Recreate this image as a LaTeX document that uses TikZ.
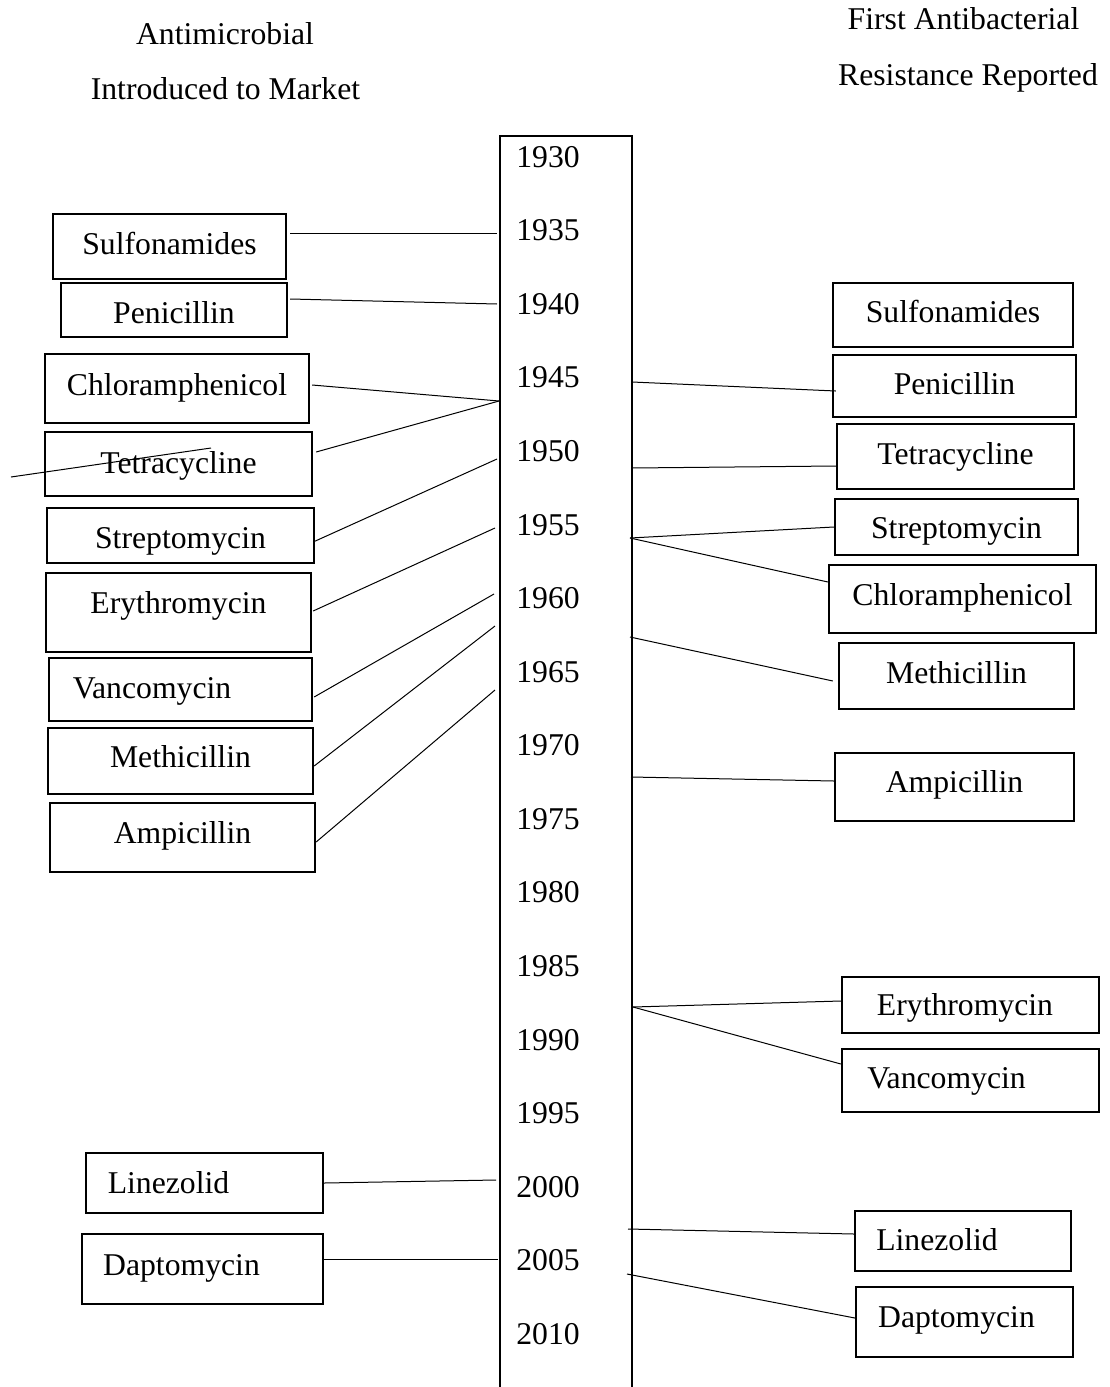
\documentclass[tikz,border=0pt]{standalone}
\usepackage{fontspec}
\setmainfont{Liberation Serif}
\newcommand{\drugfont}{\fontsize{31.7pt}{38pt}\selectfont}
\tikzset{
  drugbox/.style={draw, line width=2.3pt, inner sep=0pt, text height=30pt, font=\drugfont},
  yearlabel/.style={inner sep=0pt, font=\drugfont},
  heading/.style={anchor=base, inner sep=0pt, font=\drugfont},
  link/.style={line width=1pt},
}
\begin{document}
\begin{tikzpicture}[x=1pt, y=-1pt]
    \useasboundingbox (0,0) rectangle (1110,1387);
    % headings
    \node[heading] (hLeftA) at (225,44) {Antimicrobial};
    \node[heading] (hLeftB) at (225.5,99) {Introduced to Market};
    \node[heading] (hRightA) at (963.5,29) {First Antibacterial};
    \node[heading] (hRightB) at (968,85) {Resistance Reported};
    % time line
    \draw[line width=2pt] (500,1390) -- (500,136) -- (632,136) -- (632,1390);
    \foreach \yr in {1930,1935,...,2010}
        \node[yearlabel] (y\yr) at (548,{157+(\yr-1930)*14.71}) {\yr};
    % points on the time line
    \coordinate (tl35) at (497,233);
    \coordinate (tl40) at (497,304);
    \coordinate (tl47) at (499,401);
    \coordinate (tl50) at (497,459);
    \coordinate (tl55) at (495,528);
    \coordinate (tl60) at (494,594);
    \coordinate (tl62) at (495,626);
    \coordinate (tl66) at (495,690);
    \coordinate (tl00) at (496,1180);
    \coordinate (tl05) at (498,1259);
    \coordinate (tr45) at (632,382);
    \coordinate (tr51) at (632,468);
    \coordinate (tr56) at (630,538);
    \coordinate (tr63) at (630,637);
    \coordinate (tr72) at (631,777);
    \coordinate (tr88) at (633,1007);
    \coordinate (tr03) at (628,1229);
    \coordinate (tr06) at (627,1274);
    % introduced to market
    \node[drugbox, minimum width=233pt, minimum height=65pt, text depth=14pt] (lSulfa) at (169.5,246.5) {Sulfonamides};
    \node[drugbox, minimum width=226pt, minimum height=54pt, text depth=4pt] (lPen) at (174,310) {Penicillin};
    \node[drugbox, minimum width=264pt, minimum height=69pt, text depth=17pt] (lChlor) at (177,388.5) {Chloramphenicol};
    \node[drugbox, minimum width=267pt, minimum height=64pt, text depth=12pt] (lTetra) at (178.5,464) {Tetracycline};
    \node[drugbox, minimum width=267pt, minimum height=55pt, text depth=5pt] (lStrep) at (180.5,535.5) {Streptomycin};
    \node[drugbox, minimum width=265pt, minimum height=79pt, text depth=28pt] (lEry) at (178.5,612.5) {Erythromycin};
    \node[drugbox, minimum width=263pt, minimum height=63pt, text depth=12pt] (lVanco) at (180.5,689.5) {Vancomycin\rule{57pt}{0pt}};
    \node[drugbox, minimum width=265pt, minimum height=66pt, text depth=18pt] (lMeth) at (180.5,761) {Methicillin};
    \node[drugbox, minimum width=265pt, minimum height=69pt, text depth=19pt] (lAmp) at (182.5,837.5) {Ampicillin};
    \node[drugbox, minimum width=237pt, minimum height=60pt, text depth=10pt] (lLine) at (204.5,1183) {Linezolid\rule{72pt}{0pt}};
    \node[drugbox, minimum width=241pt, minimum height=70pt, text depth=18pt] (lDapto) at (202.5,1269) {Daptomycin\rule{42pt}{0pt}};
    % first resistance reported
    \node[drugbox, minimum width=240pt, minimum height=64pt, text depth=16pt] (rSulfa) at (953,315) {Sulfonamides};
    \node[drugbox, minimum width=243pt, minimum height=62pt, text depth=14pt] (rPen) at (954.5,386) {Penicillin};
    \node[drugbox, minimum width=237pt, minimum height=65pt, text depth=15pt] (rTetra) at (955.5,456.5) {Tetracycline};
    \node[drugbox, minimum width=243pt, minimum height=56pt, text depth=8pt] (rStrep) at (956.5,527) {Streptomycin};
    \node[drugbox, minimum width=267pt, minimum height=68pt, text depth=18pt] (rChlor) at (962.5,599) {Chloramphenicol};
    \node[drugbox, minimum width=235pt, minimum height=66pt, text depth=16pt] (rMeth) at (956.5,676) {Methicillin};
    \node[drugbox, minimum width=239pt, minimum height=68pt, text depth=20pt] (rAmp) at (954.5,787) {Ampicillin};
    \node[drugbox, minimum width=257pt, minimum height=56pt, text depth=10pt] (rEry) at (970.5,1005) {Erythromycin\rule{11pt}{0pt}};
    \node[drugbox, minimum width=257pt, minimum height=63pt, text depth=15pt] (rVanco) at (970.5,1080.5) {Vancomycin\rule{48pt}{0pt}};
    \node[drugbox, minimum width=216pt, minimum height=60pt, text depth=12pt] (rLine) at (963,1241) {Linezolid\rule{52pt}{0pt}};
    \node[drugbox, minimum width=217pt, minimum height=70pt, text depth=20pt] (rDapto) at (964.5,1322) {Daptomycin\rule{16pt}{0pt}};
    % left links
    \draw[link] ([xshift=3pt, yshift=13.5pt]lSulfa.east) -- (tl35);
    \draw[link] ([xshift=2pt, yshift=11pt]lPen.east) -- (tl40);
    \draw[link] ([xshift=2pt, yshift=3.5pt]lChlor.east) -- (tl47);
    \draw[link] ([xshift=3pt, yshift=12pt]lTetra.east) -- (tl47);
    \draw[link] ([xshift=-2pt, yshift=-6.5pt]lStrep.east) -- (tl50);
    \draw[link] ([xshift=1pt, yshift=1.5pt]lEry.east) -- (tl55);
    \draw[link] ([xshift=1pt, yshift=-7.5pt]lVanco.east) -- (tl60);
    \draw[link] ([yshift=-5pt]lMeth.east) -- (tl62);
    \draw[link] ([yshift=-4.5pt]lAmp.east) -- (tl66);
    \draw[link] (lLine.east) -- (tl00);
    \draw[link] ([yshift=10pt]lDapto.east) -- (tl05);
    \draw[link] (11,477) -- (211,448);
    % right links
    \draw[link] (tr45) -- ([xshift=4pt, yshift=-5pt]rPen.west);
    \draw[link] (tr51) -- ([yshift=-9.5pt]rTetra.west);
    \draw[link] (tr56) -- (rStrep.west);
    \draw[link] (tr56) -- ([yshift=17pt]rChlor.west);
    \draw[link] (tr63) -- ([xshift=-5pt, yshift=-5pt]rMeth.west);
    \draw[link] (tr72) -- ([yshift=6pt]rAmp.west);
    \draw[link] (tr88) -- ([yshift=4pt]rEry.west);
    \draw[link] (tr88) -- ([yshift=16.5pt]rVanco.west);
    \draw[link] (tr03) -- ([yshift=7pt]rLine.west);
    \draw[link] (tr06) -- ([yshift=4pt]rDapto.west);
\end{tikzpicture}
\end{document}
